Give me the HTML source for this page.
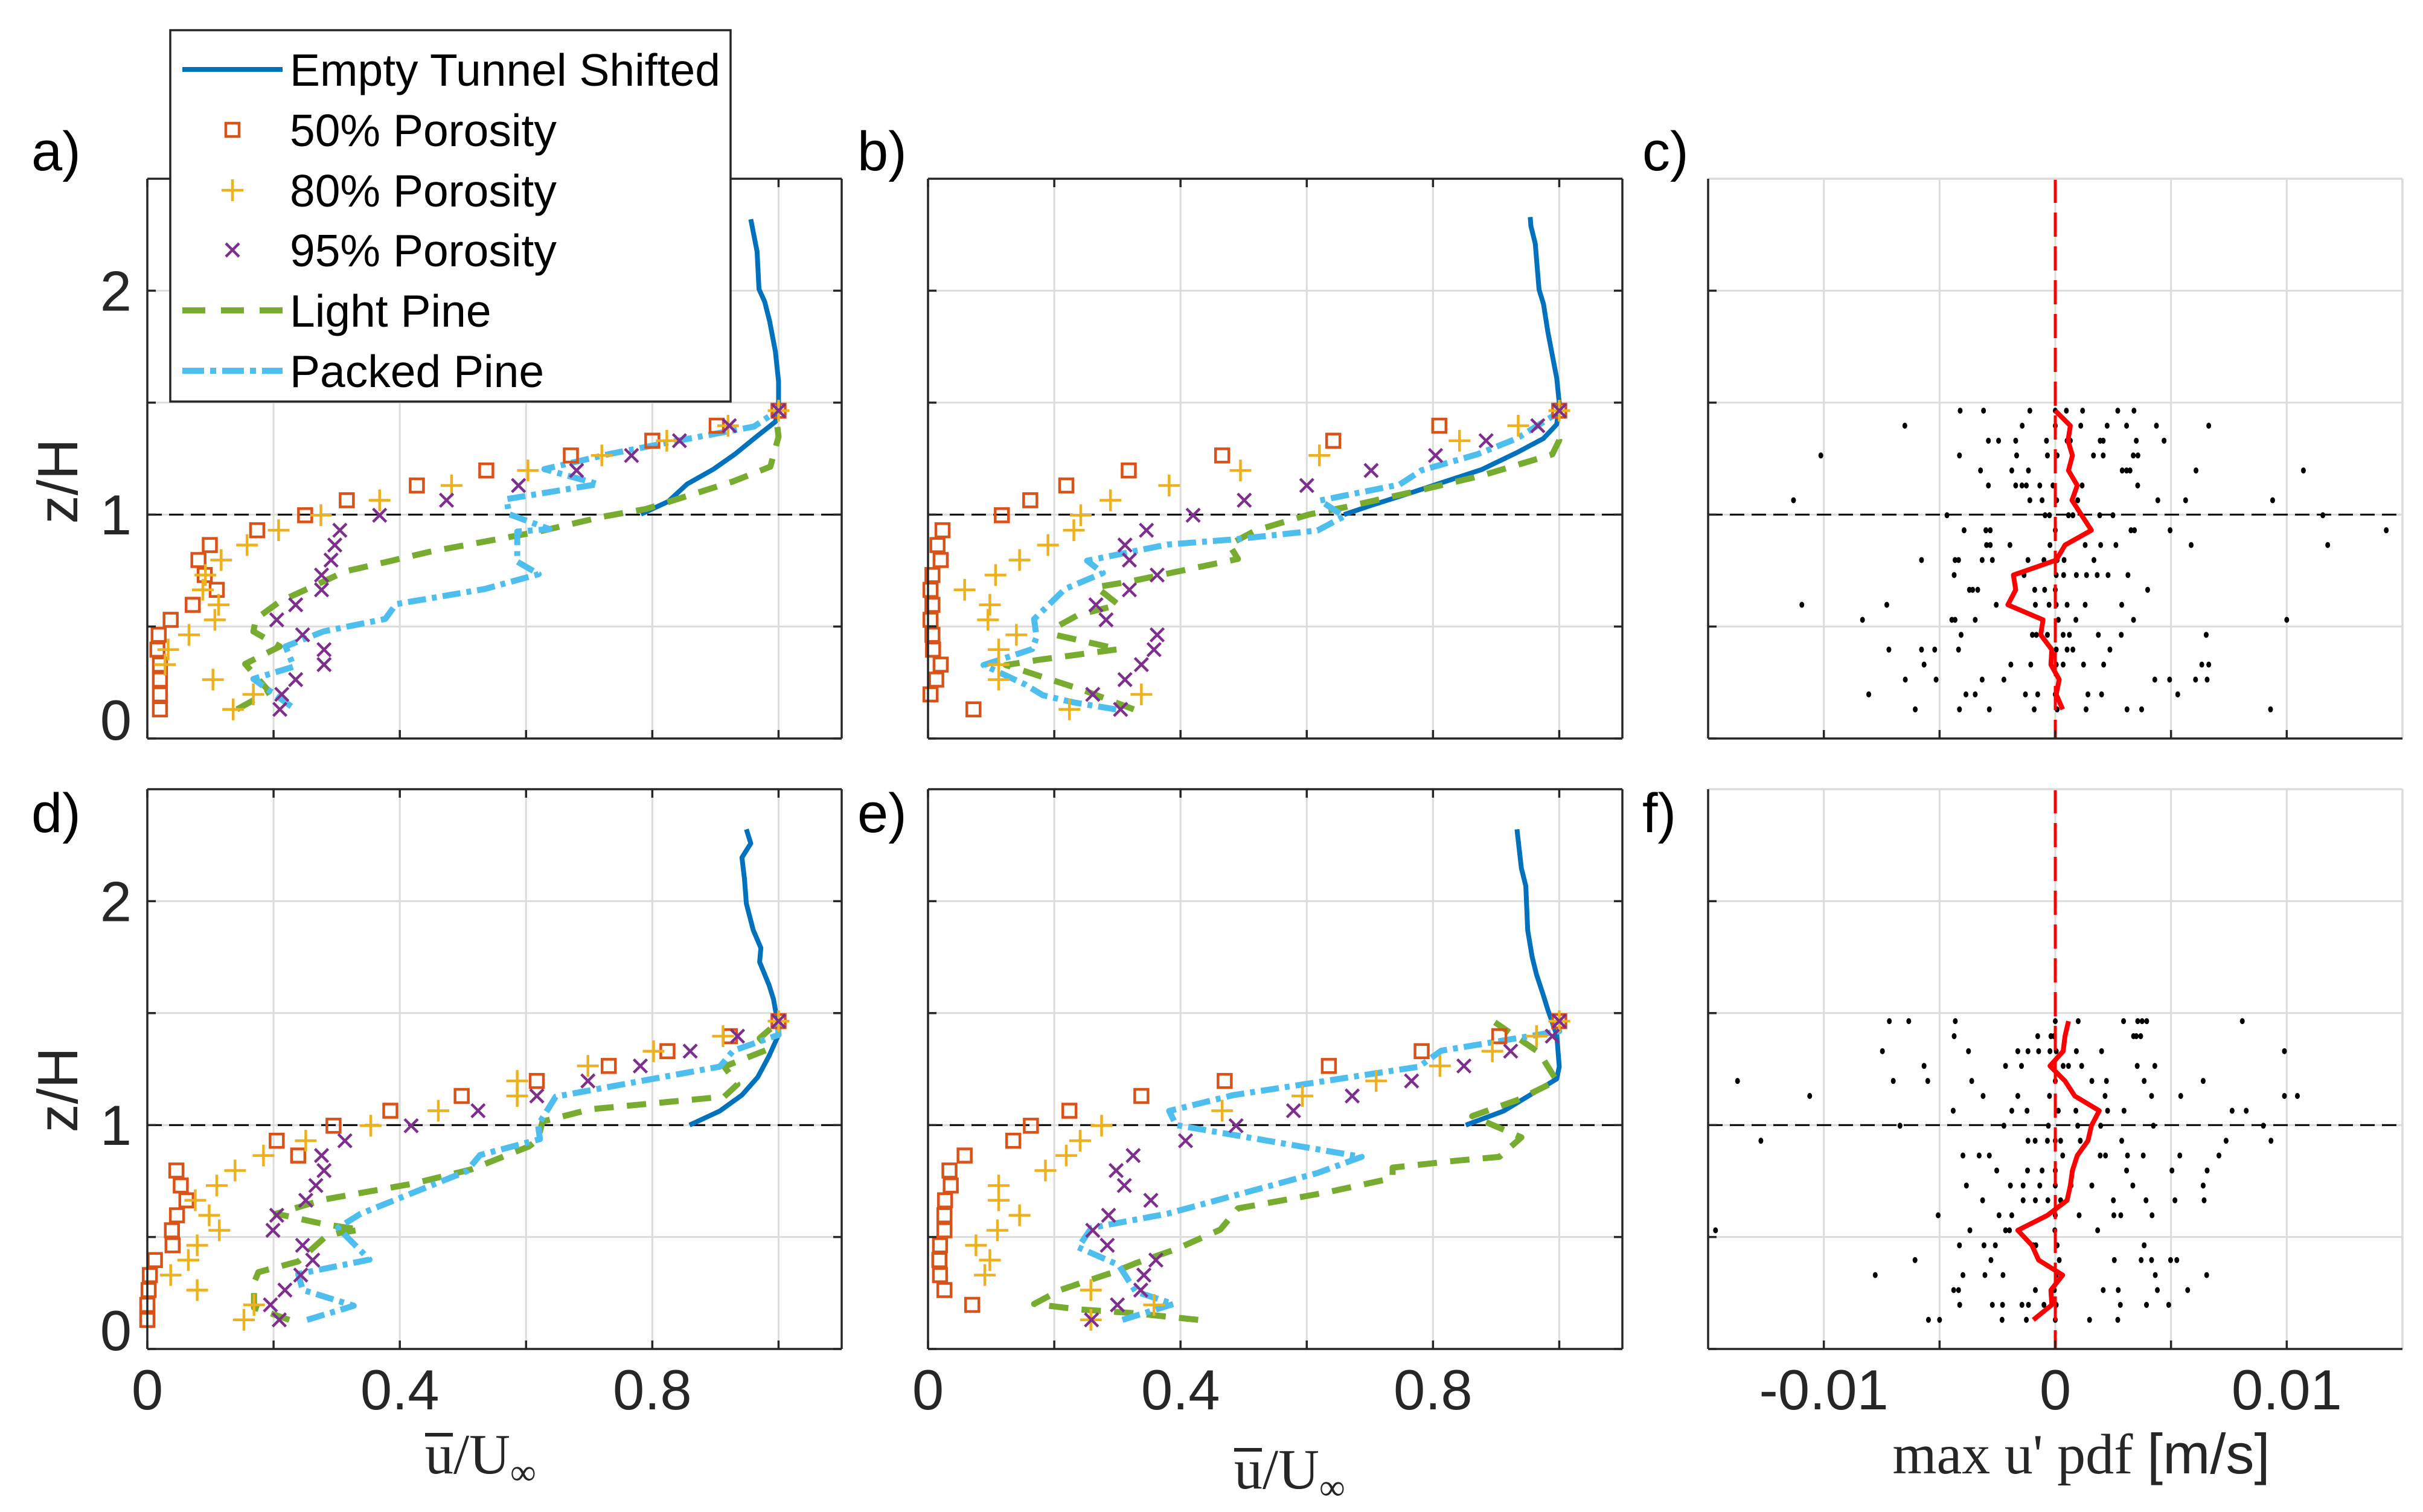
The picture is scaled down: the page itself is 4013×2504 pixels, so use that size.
<!DOCTYPE html>
<html><head><meta charset="utf-8"><style>
html,body{margin:0;padding:0;background:#fff;}
svg{display:block;}
</style></head><body>
<svg id="fig" width="4013" height="2504" viewBox="0 0 4013 2504" xmlns="http://www.w3.org/2000/svg" font-family="Liberation Sans, sans-serif"></svg>
<script>
// ---------- shared data ----------
const zLevels = [0.13,0.197,0.263,0.33,0.397,0.463,0.53,0.597,0.664,0.73,0.797,0.864,0.93,0.997,1.064,1.13,1.197,1.264,1.33,1.397,1.464];
const uTicks = [0, 0.2, 0.4, 0.6, 0.8, 1.0];
const uTickLabels = ["0","","0.4","","0.8",""];
const zTicks = [0, 0.5, 1, 1.5, 2];
const zTickLabels = ["0","","1","","2"];
const vTicks = [-0.01,-0.005,0,0.005,0.01];
const vTickLabels = ["-0.01","","0","","0.01"];

// panel a
const aP50 = [0.02,0.02,0.02,0.02,0.016,0.018,0.037,0.072,0.11,0.091,0.081,0.099,0.174,0.25,0.316,0.427,0.537,0.671,0.8,0.902,1.0];
const aP80 = [0.136,0.168,0.104,0.028,0.033,0.066,0.107,0.113,0.088,0.092,0.117,0.158,0.208,0.275,0.368,0.482,0.603,0.72,0.823,0.92,1.0];
const aP95 = [0.21,0.213,0.235,0.28,0.28,0.246,0.205,0.235,0.276,0.276,0.291,0.297,0.305,0.368,0.474,0.588,0.68,0.767,0.843,0.922,1.0];
const aEmptyU = [0.782,0.825,0.855,0.897,0.931,0.965,0.995,1.0,1.0,0.995,0.986,0.978,0.969,0.966,0.956];
const aEmptyZ = [1.002,1.058,1.136,1.203,1.27,1.348,1.415,1.467,1.594,1.728,1.862,1.951,2.007,2.174,2.319];
const aLightU = [0.142,0.193,0.155,0.21,0.168,0.172,0.21,0.279,0.313,0.381,0.449,0.62,0.722,0.79,0.927,0.987,1.0,0.995];
const aLightZ = [0.13,0.21,0.333,0.411,0.478,0.534,0.612,0.701,0.746,0.79,0.835,0.924,0.991,1.025,1.147,1.214,1.348,1.46];
const aPackU = [0.228,0.168,0.232,0.219,0.279,0.377,0.394,0.535,0.62,0.586,0.586,0.637,0.573,0.569,0.714,0.629,0.731,0.833,0.961,1.0];
const aPackZ = [0.143,0.266,0.321,0.411,0.478,0.534,0.6,0.668,0.734,0.79,0.924,0.935,1.002,1.069,1.136,1.203,1.27,1.326,1.393,1.467];
// panel b
const bP50 = [0.072,0.004,0.013,0.02,0.008,0.007,0.004,0.007,0.004,0.007,0.02,0.015,0.023,0.117,0.162,0.219,0.318,0.466,0.642,0.81,1.0];
const bP80 = [0.224,0.338,0.112,0.112,0.112,0.14,0.095,0.098,0.058,0.107,0.145,0.19,0.231,0.242,0.289,0.382,0.495,0.62,0.842,0.935,1.0];
const bP95 = [0.305,0.261,0.312,0.338,0.358,0.363,0.282,0.266,0.319,0.363,0.319,0.312,0.346,0.42,0.501,0.6,0.702,0.804,0.884,0.966,1.0];
const bEmptyU = [0.659,0.701,0.771,0.877,0.933,0.975,0.996,1.0,0.996,0.982,0.975,0.968,0.962,0.955,0.954];
const bEmptyZ = [1.0,1.04,1.103,1.201,1.277,1.34,1.403,1.498,1.609,1.815,1.941,2.005,2.21,2.29,2.329];
const bLightU = [0.326,0.245,0.123,0.175,0.302,0.203,0.203,0.238,0.302,0.281,0.266,0.316,0.491,0.477,0.519,0.603,0.659,0.771,0.877,0.989,1.0,0.996];
const bLightZ = [0.13,0.217,0.328,0.351,0.399,0.462,0.498,0.552,0.597,0.644,0.676,0.699,0.802,0.866,0.929,1.0,1.032,1.103,1.174,1.269,1.332,1.388];
const bPackU = [0.298,0.231,0.182,0.154,0.088,0.165,0.172,0.168,0.217,0.277,0.252,0.322,0.379,0.484,0.617,0.659,0.621,0.747,0.782,0.87,0.933,0.996];
const bPackZ = [0.13,0.161,0.193,0.241,0.328,0.399,0.454,0.533,0.668,0.739,0.794,0.834,0.866,0.889,0.929,0.992,1.063,1.134,1.198,1.269,1.34,1.451];
// panel d
const dP50 = [0,0,0.002,0.004,0.012,0.04,0.039,0.047,0.062,0.053,0.046,0.239,0.205,0.295,0.385,0.498,0.617,0.731,0.824,0.923,1.0];
const dP80 = [0.153,0.169,0.079,0.037,0.065,0.079,0.114,0.098,0.076,0.11,0.139,0.184,0.251,0.354,0.461,0.586,0.586,0.698,0.802,0.912,1.0];
const dP95 = [0.209,0.195,0.218,0.243,0.262,0.246,0.199,0.205,0.251,0.267,0.28,0.276,0.313,0.418,0.524,0.617,0.698,0.781,0.86,0.935,1.0];
const dEmptyU = [0.859,0.907,0.942,0.967,0.985,1.0,0.999,0.995,0.992,0.985,0.97,0.972,0.96,0.949,0.946,0.942,0.956,0.949];
const dEmptyZ = [1.0,1.063,1.134,1.214,1.309,1.403,1.467,1.514,1.562,1.625,1.728,1.791,1.87,1.989,2.1,2.195,2.258,2.321];
const dLightU = [0.225,0.169,0.169,0.176,0.239,0.281,0.302,0.338,0.281,0.204,0.281,0.422,0.513,0.605,0.619,0.626,0.703,0.914,0.935,0.914,0.985,0.97,0.999];
const dLightZ = [0.13,0.185,0.296,0.343,0.391,0.498,0.517,0.533,0.557,0.604,0.668,0.739,0.802,0.905,0.937,1.016,1.071,1.127,1.182,1.261,1.34,1.388,1.459];
const dPackU = [0.253,0.327,0.246,0.239,0.352,0.302,0.338,0.415,0.506,0.527,0.622,0.619,0.647,0.907,0.928,1.0,0.999];
const dPackZ = [0.13,0.193,0.264,0.335,0.399,0.541,0.604,0.691,0.794,0.866,0.937,1.0,1.127,1.261,1.332,1.403,1.467];
// panel e
const eP50 = [null,0.07,0.026,0.019,0.018,0.019,0.026,0.026,0.027,0.036,0.034,0.058,0.135,0.163,0.224,0.338,0.47,0.635,0.782,0.905,1.0];
const eP80 = [0.258,0.358,0.258,0.09,0.098,0.076,0.11,0.145,0.112,0.112,0.186,0.219,0.241,0.275,0.466,0.593,0.71,0.811,0.894,0.964,1.0];
const eP95 = [0.259,0.3,0.337,0.342,0.361,0.284,0.261,0.286,0.353,0.311,0.298,0.325,0.408,0.488,0.579,0.672,0.766,0.849,0.923,0.989,1.0];
const eEmptyU = [0.852,0.912,0.94,0.996,1.0,0.996,0.982,0.975,0.964,0.957,0.95,0.947,0.94,0.933];
const eEmptyZ = [1.0,1.063,1.111,1.206,1.261,1.403,1.514,1.578,1.672,1.752,1.87,2.068,2.147,2.321];
const eLightU = [0.428,0.322,0.238,0.168,0.21,0.294,0.329,0.393,0.463,0.491,0.631,0.736,0.736,0.841,0.905,0.94,0.862,0.933,0.996,0.968,0.898];
const eLightZ = [0.13,0.161,0.177,0.201,0.264,0.343,0.383,0.446,0.533,0.628,0.699,0.763,0.81,0.842,0.858,0.945,1.04,1.111,1.198,1.324,1.459];
const ePackU = [0.308,0.389,0.329,0.302,0.238,0.259,0.379,0.617,0.687,0.393,0.382,0.484,0.778,0.813,1.0,0.996];
const ePackZ = [0.13,0.201,0.256,0.375,0.454,0.541,0.604,0.786,0.858,1.0,1.063,1.134,1.261,1.332,1.419,1.467];
// panel c scatter (values in 1e-3 m/s, per z level)
const cDots = [
[-6.05,-4.14,-2.85,-0.91,0.08,1.33,3.1,3.73,9.3],
[-8.06,-3.86,-3.46,-1.29,-0.76,0,1.41,2.0,5.29],
[-6.48,-5.15,-3.16,-2.22,4.3,4.94,6.06,6.56],
[-5.67,-1.92,-1.06,0.04,0.34,1.22,2.09,6.33,6.63],
[-7.19,-5.78,-5.21,-4.18,0.04,0.51,0.76,2.36],
[-4.07,-0.99,-0.82,-0.34,0.34,0.61,1.86,2.85,6.52],
[-8.33,-4.47,-4.33,-3.46,0.13,0.89,3.38,10.0],
[-10.95,-7.28,-2.55,-0.86,-0.27,0.04,0.51,1.29,2.87],
[-3.71,-3.57,-3.35,-0.89,-0.46,0,3.99],
[-4.37,-1.35,0.04,0.36,0.91,1.35,1.81,2.28,3.14],
[-5.78,-4.33,-4.18,-3.16,-2.72,-1.18,-0.49,0.08,0.38,1.67],
[-2.97,-2.81,-1.96,-0.23,1.29,1.96,2.62,5.87,11.77],
[-3.94,-3.0,-2.81,0,3.27,3.42,4.96,14.3],
[-4.68,-0.44,-0.25,0.57,0.76,1.92,2.49,11.56],
[-11.31,-1.1,-0.57,0.06,0.97,4.43,5.63,9.39],
[-2.89,-1.71,-1.44,-1.25,-0.67,-0.1,1.16,3.56],
[-3.23,-1.88,-1.16,2.89,3.08,3.23,6.08,10.72],
[-10.13,-4.14,-1.67,-0.34,0.08,1.65,2.07,3.37,3.57],
[-2.89,-2.45,-1.71,-0.38,0.51,0.65,1.94,2.07,3.5,4.7],
[-6.5,-1.43,0,1.1,2.24,3.08,4.37,6.63],
[-4.11,-3.1,-1.1,0,0.48,1.18,2.7,3.4]];
const cMedian = [0.32,0.04,0.17,-0.19,-0.15,-0.63,-0.53,-2.05,-1.71,-1.81,0.04,0.42,1.56,1.14,0.72,0.95,0.57,0.74,0.55,0.65,0];
// panel f scatter
const fDots = [
[-5.48,-5.0,-2.3,-1.25,0,1.48,2.7],
[-4.13,-2.72,-2.28,-1.44,-1.16,-0.49,0.04,2.81,3.94,4.9],
[-4.39,-4.18,-0.86,-0.04,2.07,2.72,4.41,5.72],
[-7.78,-3.99,-3.04,-2.26,0.04,4.32,6.54],
[-6.06,-2.78,0.17,2.55,3.71,4.16,4.98,5.25],
[-4.14,-3.08,-2.59,-0.95,-0.84,0.08,3.84],
[-14.68,-3.69,-2.15,-1.98,-0.02,1.83],
[-5.06,-2.43,-1.88,0,1.03,2.53,2.83,4.18],
[-3.14,-1.39,-0.86,-0.32,0.23,2.51,3.92,5.17,6.43],
[-3.84,-1.94,-1.39,-0.67,0,0.68,1.58,3.35,6.39],
[-2.53,-1.2,-0.57,0,3.08,5.04,6.56],
[-3.99,-3.29,-2.85,0.32,1.94,2.17,3.12,3.8,5.38,7.07],
[-12.72,-1.18,-0.87,-0.34,0,0.23,1.08,2.87,7.38,9.32],
[-6.71,-2.22,-0.3,0.97,1.96,4.24,8.99],
[-4.41,-1.88,-1.22,0.13,0.89,2.26,2.97,7.64,8.25],
[-10.61,-3.12,-1.62,-0.25,2.15,4.16,5.42,9.9,10.46],
[-13.73,-7.0,-5.51,-3.61,0,1.58,2.21,3.84,6.39],
[-5.67,-2.15,-1.46,-0.19,0.34,0.57,1.14,3.54,4.3],
[-7.47,-3.75,-1.62,-1.18,-0.72,-0.23,0.04,0.91,2.0,9.9],
[-4.37,-0.76,-0.19,-0.06,3.38,3.5,3.69],
[-7.17,-6.33,-4.32,0,0.99,2.95,3.56,3.75,3.95,8.08]];
const fMedian = [-0.95,-0.15,-0.19,0.32,-0.72,-1.01,-1.62,-0.34,0.51,0.65,0.74,0.95,1.41,1.56,1.9,0.84,0.42,-0.23,0.34,0.42,0.57];

// ---------- drawing ----------
const NS = "http://www.w3.org/2000/svg";
const svg = document.getElementById('fig');
function mk(tag, attrs, parent){
  const e = document.createElementNS(NS, tag);
  for (const k in attrs) e.setAttribute(k, attrs[k]);
  (parent||svg).appendChild(e);
  return e;
}
const C = {empty:'#0072BD', p50:'#D95319', p80:'#EDB120', p95:'#7E2F8E', light:'#77AC30', pack:'#4DBEEE', axis:'#262626', grid:'#dcdcdc'};
const W = 1150, H = 927;
const cols = [244, 1537, 2829];
const rows = [296, 1307];

function yScale(T){ return z => T + (2.5 - z) / 2.5 * H; }

function drawMarker(g, type, x, y){
  let m;
  if (type === 'sq'){
    m = mk('rect', {x:x-11, y:y-11, width:22, height:22, fill:'none', stroke:C.p50, 'stroke-width':4.5}, g);
  } else if (type === 'plus'){
    m = mk('path', {d:`M${x-18} ${y}H${x+18}M${x} ${y-18}V${y+18}`, stroke:C.p80, 'stroke-width':4.5, fill:'none'}, g);
  } else {
    m = mk('path', {d:`M${x-11} ${y-11}L${x+11} ${y+11}M${x-11} ${y+11}L${x+11} ${y-11}`, stroke:C.p95, 'stroke-width':4.5, fill:'none'}, g);
  }
  
  
}

function polyline(g, pts, style, name){
  const p = mk('polyline', Object.assign({points: pts.join(' '), fill:'none', 'stroke-linejoin':'round'}, style), g);
  
  
}

function axesFrame(g, L, T, velocity, xticks, yScl, xScl){
  xticks.forEach(t => {
    const x = xScl(t);
    const l = mk('line', {x1:x, x2:x, y1:T, y2:T+H, stroke:C.grid, 'stroke-width':3}, g);
    
    
  });
  zTicks.forEach(t => {
    const y = yScl(t);
    const l = mk('line', {x1:L, x2:L+W, y1:y, y2:y, stroke:C.grid, 'stroke-width':3}, g);
    
    
  });
}

function axesBox(g, L, T, velocity, xticks, yScl, xScl){
  const light = !velocity;
  const b = mk('g', {}, g);
  
  
  mk('line', {x1:L, x2:L+W, y1:T, y2:T, stroke: light ? C.grid : C.axis, 'stroke-width':3.5}, b);
  mk('line', {x1:L+W, x2:L+W, y1:T, y2:T+H, stroke: light ? C.grid : C.axis, 'stroke-width':3.5}, b);
  mk('line', {x1:L, x2:L, y1:T, y2:T+H, stroke:C.axis, 'stroke-width':3.5}, b);
  mk('line', {x1:L, x2:L+W, y1:T+H, y2:T+H, stroke:C.axis, 'stroke-width':3.5}, b);
  xticks.forEach(t => {
    const x = xScl(t);
    mk('line', {x1:x, x2:x, y1:T+H, y2:T+H-14, stroke:C.axis, 'stroke-width':3.5}, b);
    if (velocity) mk('line', {x1:x, x2:x, y1:T, y2:T+14, stroke:C.axis, 'stroke-width':3.5}, b);
  });
  zTicks.forEach(t => {
    const y = yScl(t);
    mk('line', {x1:L, x2:L+14, y1:y, y2:y, stroke:C.axis, 'stroke-width':3.5}, b);
    if (velocity) mk('line', {x1:L+W, x2:L+W-14, y1:y, y2:y, stroke:C.axis, 'stroke-width':3.5}, b);
  });
}

function velocityPanel(id, ci, ri, p50, p80, p95, eU, eZ, lU, lZ, pU, pZ){
  const L = cols[ci], T = rows[ri];
  const g = mk('g', {});
  
  
  const xs = u => L + u / 1.1 * W;
  const ys = yScale(T);
  axesFrame(g, L, T, true, uTicks, ys, xs);
  const hl = mk('line', {x1:L, x2:L+W, y1:ys(1), y2:ys(1), stroke:'#000', 'stroke-width':3, 'stroke-dasharray':'24 12'}, g);
  
  
  polyline(g, eU.map((u,i)=>xs(u)+','+ys(eZ[i])), {stroke:C.empty, 'stroke-width':8}, 'empty-tunnel-line');
  polyline(g, lU.map((u,i)=>xs(u)+','+ys(lZ[i])), {stroke:C.light, 'stroke-width':10, 'stroke-dasharray':'32 22'}, 'light-pine-line');
  polyline(g, pU.map((u,i)=>xs(u)+','+ys(pZ[i])), {stroke:C.pack, 'stroke-width':10, 'stroke-dasharray':'30 10 8 10'}, 'packed-pine-line');
  p50.forEach((u,i)=>{ if(u!==null) drawMarker(g,'sq',xs(u),ys(zLevels[i])); });
  p80.forEach((u,i)=>{ if(u!==null) drawMarker(g,'plus',xs(u),ys(zLevels[i])); });
  p95.forEach((u,i)=>{ if(u!==null) drawMarker(g,'x',xs(u),ys(zLevels[i])); });
  axesBox(g, L, T, true, uTicks, ys, xs);
  if (ci === 0){
    zTicks.forEach((t,i)=>{
      if(!zTickLabels[i]) return;
      const tx = mk('text', {x:L-26, y:ys(t) + (t===0 ? 2 : 33), 'text-anchor':'end', 'font-size':94, fill:C.axis}, g);
      tx.textContent = zTickLabels[i];
      
      
    });
  }
  if (ri === 1){
    uTicks.forEach((t,i)=>{
      if(!uTickLabels[i]) return;
      const tx = mk('text', {x:xs(t), y:T+H+100, 'text-anchor':'middle', 'font-size':94, fill:C.axis}, g);
      tx.textContent = uTickLabels[i];
      
      
    });
  }
}

function pdfPanel(id, ri, dots, med){
  const L = cols[2], T = rows[ri];
  const g = mk('g', {});
  
  
  const xs = v => L + (v + 0.015) / 0.03 * W;
  const ys = yScale(T);
  axesFrame(g, L, T, false, vTicks, ys, xs);
  const hl = mk('line', {x1:L, x2:L+W, y1:ys(1), y2:ys(1), stroke:'#000', 'stroke-width':3, 'stroke-dasharray':'24 12'}, g);
  
  
  dots.forEach((row,i)=>{
    row.forEach(v=>{
      const d = mk('ellipse', {cx:xs(v/1000), cy:ys(zLevels[i]), rx:4, ry:5, fill:'#000'}, g);
      
      
    });
  });
  const vl = mk('line', {x1:xs(0), x2:xs(0), y1:T, y2:T+H, stroke:'#ff0000', 'stroke-width':5, 'stroke-dasharray':'40 16'}, g);
  
  
  polyline(g, med.map((v,i)=>xs(v/1000)+','+ys(zLevels[i])), {stroke:'#ff0000', 'stroke-width':8}, 'median-line');
  axesBox(g, L, T, false, vTicks, ys, xs);
  if (ri === 1){
    vTicks.forEach((t,i)=>{
      if(!vTickLabels[i]) return;
      const tx = mk('text', {x:xs(t), y:T+H+100, 'text-anchor':'middle', 'font-size':94, fill:C.axis}, g);
      tx.textContent = vTickLabels[i];
      
      
    });
  }
}

velocityPanel('a',0,0,aP50,aP80,aP95,aEmptyU,aEmptyZ,aLightU,aLightZ,aPackU,aPackZ);
velocityPanel('b',1,0,bP50,bP80,bP95,bEmptyU,bEmptyZ,bLightU,bLightZ,bPackU,bPackZ);
pdfPanel('c',0,cDots,cMedian);
velocityPanel('d',0,1,dP50,dP80,dP95,dEmptyU,dEmptyZ,dLightU,dLightZ,dPackU,dPackZ);
velocityPanel('e',1,1,eP50,eP80,eP95,eEmptyU,eEmptyZ,eLightU,eLightZ,ePackU,ePackZ);
pdfPanel('f',1,fDots,fMedian);
</script>
<!-- static text -->
<script>
(function(){
const NS="http://www.w3.org/2000/svg", svg=document.getElementById('fig');
function t(x,y,txt,name,attrs){
  const e=document.createElementNS(NS,'text');
  e.setAttribute('x',x);e.setAttribute('y',y);
  for(const k in (attrs||{})) e.setAttribute(k,attrs[k]);
  e.textContent=txt;
  
  
  svg.appendChild(e);return e;
}
function ln(x1,y1,x2,y2,name){
  const e=document.createElementNS(NS,'line');
  e.setAttribute('x1',x1);e.setAttribute('y1',y1);e.setAttribute('x2',x2);e.setAttribute('y2',y2);
  e.setAttribute('stroke','#262626');e.setAttribute('stroke-width',6);
  
  
  svg.appendChild(e);
}
const lab={'font-size':92,fill:'#000'};
t(52,282,'a)','panel-label-a',lab);
t(1420,282,'b)','panel-label-b',lab);
t(2720,282,'c)','panel-label-c',lab);
t(52,1378,'d)','panel-label-d',lab);
t(1420,1378,'e)','panel-label-e',lab);
t(2720,1378,'f)','panel-label-f',lab);
t(0,0,'z/H','y-axis-title-top',{'font-size':94,fill:'#262626','text-anchor':'middle',transform:'translate(128 797) rotate(-90)'});
t(0,0,'z/H','y-axis-title-bottom',{'font-size':94,fill:'#262626','text-anchor':'middle',transform:'translate(128 1805) rotate(-90)'});
const ser={'font-family':'Liberation Serif, serif','font-size':94,fill:'#262626'};
const x1=t(704,2440,'','x-axis-title-d',ser);
x1.innerHTML='u/U<tspan font-size="60" dy="18">∞</tspan>';
ln(704,2376,750,2376,'x-title-overbar-d');
const x2=t(2044,2465,'','x-axis-title-e',ser);
x2.innerHTML='u/U<tspan font-size="60" dy="18">∞</tspan>';
ln(2044,2401,2090,2401,'x-title-overbar-e');
const x3=t(3447,2440,'','x-axis-title-f',Object.assign({'text-anchor':'middle'},ser));
x3.innerHTML='max u\' pdf <tspan font-family="Liberation Sans, sans-serif">[m/s]</tspan>';
// legend
const g=document.createElementNS(NS,'g');


svg.appendChild(g);
function el(tag,a,name){const e=document.createElementNS(NS,tag);for(const k in a)e.setAttribute(k,a[k]);
 
 
 g.appendChild(e);return e;}
el('rect',{x:282,y:50,width:928,height:615,fill:'#fff',stroke:'#262626','stroke-width':3.5},'legend-box');
const ys=[115,215,315,414,514,614];
el('line',{x1:302,x2:468,y1:ys[0],y2:ys[0],stroke:'#0072BD','stroke-width':8},'legend-swatch-empty');
el('rect',{x:374,y:ys[1]-11,width:22,height:22,fill:'none',stroke:'#D95319','stroke-width':4.5},'legend-swatch-50');
el('path',{d:`M367 ${ys[2]}H403M385 ${ys[2]-18}V${ys[2]+18}`,stroke:'#EDB120','stroke-width':4.5},'legend-swatch-80');
el('path',{d:`M374 ${ys[3]-11}L396 ${ys[3]+11}M374 ${ys[3]+11}L396 ${ys[3]-11}`,stroke:'#7E2F8E','stroke-width':4.5},'legend-swatch-95');
el('line',{x1:302,x2:468,y1:ys[4],y2:ys[4],stroke:'#77AC30','stroke-width':10,'stroke-dasharray':'38 26'},'legend-swatch-light');
el('line',{x1:302,x2:468,y1:ys[5],y2:ys[5],stroke:'#4DBEEE','stroke-width':10,'stroke-dasharray':'36 10 10 10'},'legend-swatch-packed');
const names=['Empty Tunnel Shifted','50% Porosity','80% Porosity','95% Porosity','Light Pine','Packed Pine'];
names.forEach((n,i)=>{
  const e=document.createElementNS(NS,'text');
  e.setAttribute('x',480);e.setAttribute('y',ys[i]+27);
  e.setAttribute('font-size',75);e.setAttribute('fill','#000');
  e.textContent=n;
  
  
  g.appendChild(e);
});
})();
</script>
</body></html>
